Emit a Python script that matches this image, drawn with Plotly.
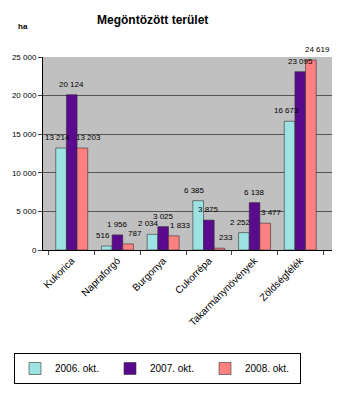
import plotly.graph_objects as go

categories = ["Kukorica", "Napraforgó", "Burgonya", "Cukorrépa", "Takarmánynövények", "Zöldségfélék"]
series_names = ["2006. okt.", "2007. okt.", "2008. okt."]
v2006 = [13214, 516, 2034, 6385, 2252, 16673]
v2007 = [20124, 1956, 3025, 3875, 6138, 23095]
v2008 = [13203, 787, 1833, 233, 3477, 24619]
colors = ["#9ee3e3", "#5a0a8c", "#ff8080"]
tick_vals = [0, 5000, 10000, 15000, 20000, 25000]
tick_text = ["0", "5 000", "10 000", "15 000", "20 000", "25 000"]

def fmt(v):
    return f"{v:,}".replace(",", " ")

W, H = 352, 396
L, R, T, B = 43, 20, 57, 146
pw, ph = W - L - R, H - T - B
slot = pw / len(categories)
bargap = 0.3
barw = slot * (1 - bargap) / 3

def px(xp):
    return (xp - L) / pw

def py(yp):
    return (H - B - yp) / ph

fig = go.Figure()
all_vals = [v2006, v2007, v2008]
for name, vals, c in zip(series_names, all_vals, colors):
    fig.add_trace(go.Bar(
        x=categories, y=vals, name=name,
        marker=dict(color=c, line=dict(color="#333333", width=0.6)),
        cliponaxis=False,
    ))

annotations = [
    dict(text="<b>Megöntözött terület</b>", x=px(152), y=py(20), xref="paper", yref="paper",
         showarrow=False, font=dict(size=12), xanchor="center", yanchor="middle"),
    dict(text="<b>ha</b>", x=px(23), y=py(26), xref="paper", yref="paper",
         showarrow=False, font=dict(size=8), xanchor="center", yanchor="middle"),
]
extra_shift = [-3, 0, 6]
for i, vals in enumerate(all_vals):
    for cat, v in zip(categories, vals):
        annotations.append(dict(
            text=fmt(v), x=cat, y=v, xref="x", yref="y", showarrow=False,
            xanchor="center", yanchor="bottom",
            xshift=(i - 1) * barw + extra_shift[i], yshift=4,
            font=dict(size=8, color="#000000"),
        ))

fig.update_layout(
    width=W, height=H,
    margin=dict(l=L, r=R, t=T, b=B),
    paper_bgcolor="#ffffff", plot_bgcolor="#c0c0c0",
    barmode="group", bargap=bargap, bargroupgap=0,
    font=dict(family="Arial, Liberation Sans", size=8, color="#000000"),
    showlegend=True,
    legend=dict(orientation="h", x=14 / W, y=12 / H, xref="container", yref="container",
                xanchor="left", yanchor="bottom",
                bordercolor="#000000", borderwidth=1,
                font=dict(size=10), entrywidth=50, itemwidth=30),
    annotations=annotations,
)

fig.update_yaxes(range=[0, 25000], tickvals=tick_vals, ticktext=tick_text,
                 showgrid=True, gridcolor="#555555", gridwidth=1,
                 showline=True, linecolor="#000000", ticks="outside", ticklen=4,
                 tickfont=dict(size=8), zeroline=False)
fig.update_xaxes(tickangle=-45, tickfont=dict(size=10), showline=True, linecolor="#000000",
                 ticks="outside", ticklen=4, tickson="boundaries")

fig.write_html("out.html")
